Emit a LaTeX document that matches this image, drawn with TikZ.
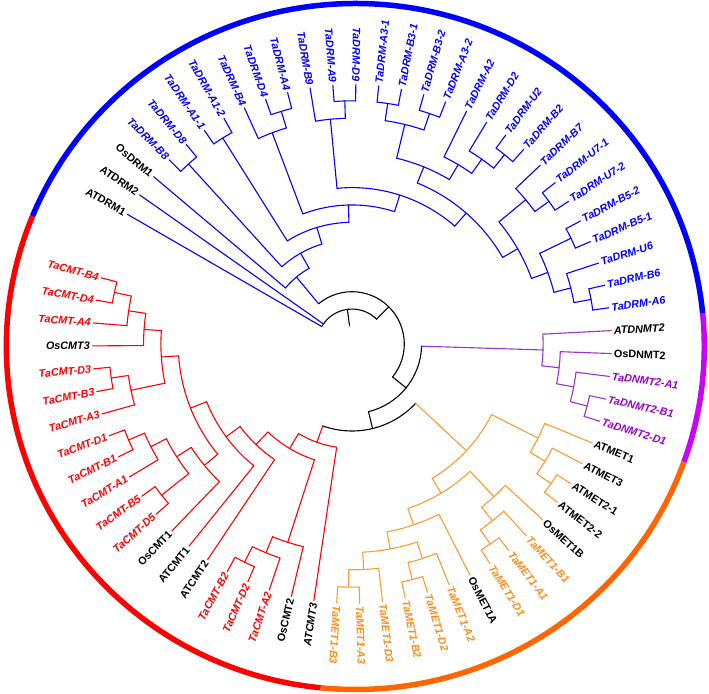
\documentclass[tikz,border=0pt]{standalone}
\usepackage{fontspec}
\setsansfont{Liberation Sans}
\definecolor{tBlue}{RGB}{0,0,255}
\definecolor{tPur}{RGB}{153,51,204}
\definecolor{tPurT}{RGB}{153,0,204}
\definecolor{tOr}{RGB}{255,153,51}
\definecolor{tOrT}{RGB}{255,140,26}
\definecolor{tRed}{RGB}{255,0,0}
\definecolor{rPur}{RGB}{204,0,255}
\definecolor{rOr}{RGB}{255,102,0}
\tikzset{
  br/.style={line width=1.1pt, line cap=round, line join=round},
  lab/.style={font=\fontsize{10.8}{12}\selectfont\sffamily\bfseries, inner sep=0pt},
  ringseg/.style={line width=5.5pt},
}
\newif\ifrightlab
% leaf: #1 index, #2 line colour, #3 text colour, #4 shape, #5 text
\newcommand\Lf[5]{%
  \pgfmathsetmacro\tA{150-(#1-1)*5.070423}%
  \expandafter\xdef\csname ang@L#1\endcsname{\tA}%
  \expandafter\xdef\csname col@L#1\endcsname{#2}%
  \coordinate (L#1) at (\tA:259.5);%
  \rightlabfalse
  \ifdim\tA pt>-96pt \ifdim\tA pt<87pt \rightlabtrue\fi\fi
  \ifrightlab
    \node[lab,text=#3,anchor=west,rotate=\tA] (T#1) at (\tA:262) {#4#5};%
  \else
    \pgfmathsetmacro\tB{\tA+180}%
    \node[lab,text=#3,anchor=east,rotate=\tB] (T#1) at (\tA:262) {#4#5};%
  \fi
}
% internal node: #1 id, #2 height, #3 colour, #4 children
\newcommand\In[4]{%
  \pgfmathsetmacro\nR{260.5-17.35*#2}%
  \gdef\nFirst{}%
  \foreach \ch in {#4}{\ifx\nFirst\empty\xdef\nFirst{\ch}\fi\xdef\nLast{\ch}}%
  \edef\aF{\csname ang@\nFirst\endcsname}%
  \edef\aL{\csname ang@\nLast\endcsname}%
  \pgfmathsetmacro\aM{(\aF+\aL)/2}%
  \expandafter\xdef\csname ang@#1\endcsname{\aM}%
  \expandafter\xdef\csname col@#1\endcsname{#3}%
  \coordinate (#1) at (\aM:\nR);%
  \draw[br,draw=#3] (\aF:\nR) arc[start angle=\aF, end angle=\aL, radius=\nR pt];%
  \foreach \ch in {#4}{%
    \edef\cA{\csname ang@\ch\endcsname}%
    \edef\cC{\csname col@\ch\endcsname}%
    \coordinate (\ch-b) at (\cA:\nR);%
    \draw[br,draw=\cC] (\ch-b) -- (\ch);%
  }%
}
\newcommand\LB[2]{\Lf{#1}{tBlue}{tBlue}{\itshape}{#2}}
\newcommand\LP[2]{\Lf{#1}{tPur}{tPurT}{\itshape}{#2}}
\newcommand\LO[2]{\Lf{#1}{tOr}{tOrT}{\itshape}{#2}}
\newcommand\LR[2]{\Lf{#1}{tRed}{tRed}{\itshape}{#2}}
\begin{document}
\begin{tikzpicture}[x=1pt,y=1pt]
\useasboundingbox (-352,-349) rectangle (357,344);
% outer ring
\begin{scope}[shift={(3.3,-2.5)}]
  \draw[ringseg,draw=rPur] ({349*cos(-19.7)},{343*sin(-19.7)}) arc[start angle=-19.7, end angle=5.6, x radius=349pt, y radius=343pt];
  \draw[ringseg,draw=tBlue] ({349*cos(5.6)},{343*sin(5.6)}) arc[start angle=5.6, end angle=157.7, x radius=349pt, y radius=343pt];
  \draw[ringseg,draw=tRed] ({349*cos(157.7)},{343*sin(157.7)}) arc[start angle=157.7, end angle=264.3, x radius=349pt, y radius=343pt];
  \draw[ringseg,draw=rOr] ({349*cos(264.3)},{343*sin(264.3)}) arc[start angle=264.3, end angle=340.3, x radius=349pt, y radius=343pt];
\end{scope}
% leaves
\Lf{1}{tBlue}{black}{\upshape}{ATDRM1}
\Lf{2}{tBlue}{black}{\upshape}{ATDRM2}
\Lf{3}{tBlue}{black}{\upshape}{OsDRM1}
\LB{4}{TaDRM-B8}
\LB{5}{TaDRM-D8}
\LB{6}{TaDRM-A1-1}
\LB{7}{TaDRM-A1-2}
\LB{8}{TaDRM-B4}
\LB{9}{TaDRM-D4}
\LB{10}{TaDRM-A4}
\LB{11}{TaDRM-B9}
\LB{12}{TaDRM-A9}
\LB{13}{TaDRM-D9}
\LB{14}{TaDRM-A3-1}
\LB{15}{TaDRM-B3-1}
\LB{16}{TaDRM-B3-2}
\LB{17}{TaDRM-A3-2}
\LB{18}{TaDRM-A2}
\LB{19}{TaDRM-D2}
\LB{20}{TaDRM-U2}
\LB{21}{TaDRM-B2}
\LB{22}{TaDRM-B7}
\LB{23}{TaDRM-U7-1}
\LB{24}{TaDRM-U7-2}
\LB{25}{TaDRM-B5-2}
\LB{26}{TaDRM-B5-1}
\LB{27}{TaDRM-U6}
\LB{28}{TaDRM-B6}
\LB{29}{TaDRM-A6}
\Lf{30}{tPur}{black}{\itshape}{ATDNMT2}
\Lf{31}{tPur}{black}{\upshape}{OsDNMT2}
\LP{32}{TaDNMT2-A1}
\LP{33}{TaDNMT2-B1}
\LP{34}{TaDNMT2-D1}
\Lf{35}{tOr}{black}{\upshape}{ATMET1}
\Lf{36}{tOr}{black}{\upshape}{ATMET3}
\Lf{37}{tOr}{black}{\upshape}{ATMET2-1}
\Lf{38}{tOr}{black}{\upshape}{ATMET2-2}
\Lf{39}{tOr}{black}{\upshape}{OsMET1B}
\LO{40}{TaMET1-B1}
\LO{41}{TaMET1-A1}
\LO{42}{TaMET1-D1}
\Lf{43}{tOr}{black}{\upshape}{OsMET1A}
\LO{44}{TaMET1-A2}
\LO{45}{TaMET1-D2}
\LO{46}{TaMET1-B2}
\LO{47}{TaMET1-D3}
\LO{48}{TaMET1-A3}
\LO{49}{TaMET1-B3}
\Lf{50}{tRed}{black}{\itshape}{ATCMT3}
\Lf{51}{tRed}{black}{\upshape}{OsCMT2}
\LR{52}{TaCMT-A2}
\LR{53}{TaCMT-D2}
\LR{54}{TaCMT-B2}
\Lf{55}{tRed}{black}{\upshape}{ATCMT2}
\Lf{56}{tRed}{black}{\upshape}{ATCMT1}
\Lf{57}{tRed}{black}{\upshape}{OsCMT1}
\LR{58}{TaCMT-D5}
\LR{59}{TaCMT-B5}
\LR{60}{TaCMT-A1}
\LR{61}{TaCMT-B1}
\LR{62}{TaCMT-D1}
\LR{63}{TaCMT-A3}
\LR{64}{TaCMT-B3}
\LR{65}{TaCMT-D3}
\Lf{66}{tRed}{black}{\itshape}{OsCMT3}
\LR{67}{TaCMT-A4}
\LR{68}{TaCMT-D4}
\LR{69}{TaCMT-B4}
% DRM clade
\In{b1}{1}{tBlue}{L4,L5}
\In{b2}{1}{tBlue}{L6,L7}
\In{b3}{1}{tBlue}{L9,L10}
\In{b4}{2}{tBlue}{L8,b3}
\In{b5}{1}{tBlue}{L12,L13}
\In{b6}{2}{tBlue}{L11,b5}
\In{b7}{1}{tBlue}{L14,L15}
\In{b8}{1}{tBlue}{L16,L17}
\In{b9}{2}{tBlue}{b7,b8}
\In{b10}{1}{tBlue}{L20,L21}
\In{b11}{2}{tBlue}{L19,b10}
\In{b12}{3}{tBlue}{L18,b11}
\In{b13}{4}{tBlue}{b9,b12}
\In{b14}{1}{tBlue}{L23,L24}
\In{b15}{2}{tBlue}{L22,b14}
\In{b16}{1}{tBlue}{L25,L26}
\In{b17}{1}{tBlue}{L28,L29}
\In{b18}{2}{tBlue}{L27,b17}
\In{b19}{3}{tBlue}{b16,b18}
\In{b20}{4}{tBlue}{b15,b19}
\In{b21}{5}{tBlue}{b13,b20}
\In{b22}{6}{tBlue}{b6,b21}
\In{b23}{7}{tBlue}{b4,b22}
\In{b24}{8}{tBlue}{b2,b23}
\In{b25}{9}{tBlue}{b1,b24}
\In{b26}{10}{tBlue}{L3,b25}
% DNMT2 clade
\In{p1}{1}{tPur}{L33,L34}
\In{p2}{2}{tPur}{L32,p1}
\In{p3}{3}{tPur}{L31,p2}
\In{p4}{4}{tPur}{L30,p3}
% MET clade
\In{o1}{1}{tOr}{L37,L38}
\In{o2}{2}{tOr}{L36,o1}
\In{o3}{3}{tOr}{L35,o2}
\In{o4}{1}{tOr}{L41,L42}
\In{o5}{2}{tOr}{L40,o4}
\In{o6}{3}{tOr}{L39,o5}
\In{o7}{1}{tOr}{L45,L46}
\In{o8}{2}{tOr}{L44,o7}
\In{o9}{1}{tOr}{L48,L49}
\In{o10}{2}{tOr}{L47,o9}
\In{o11}{3}{tOr}{o8,o10}
\In{o12}{4}{tOr}{L43,o11}
\In{o13}{5}{tOr}{o6,o12}
\In{o14}{6}{tOr}{o3,o13}
% CMT clade
\In{r1}{1}{tRed}{L53,L54}
\In{r2}{2}{tRed}{L52,r1}
\In{r3}{3}{tRed}{L51,r2}
\In{r4}{1}{tRed}{L58,L59}
\In{r5}{1}{tRed}{L61,L62}
\In{r6}{2}{tRed}{L60,r5}
\In{r7}{3}{tRed}{r4,r6}
\In{r8}{4}{tRed}{L57,r7}
\In{r9}{1}{tRed}{L64,L65}
\In{r10}{2}{tRed}{L63,r9}
\In{r11}{1}{tRed}{L68,L69}
\In{r12}{2}{tRed}{L67,r11}
\In{r13}{3}{tRed}{L66,r12}
\In{r14}{4}{tRed}{r10,r13}
\In{r15}{5}{tRed}{r8,r14}
\In{r16}{6}{tRed}{L56,r15}
\In{r17}{7}{tRed}{L55,r16}
\In{r18}{8}{tRed}{r3,r17}
\In{r19}{9}{tRed}{L50,r18}
% backbone
\In{n3}{10}{black}{o14,r19}
\In{n2}{11}{black}{p4,n3}
\In{n1}{12}{black}{b26,n2}
\In{root}{13}{black}{L1,L2,n1}
\edef\rA{\csname ang@root\endcsname}
\coordinate (rootstub) at (\rA:18.7);
\draw[br] (root) -- (rootstub);
\end{tikzpicture}
\end{document}
